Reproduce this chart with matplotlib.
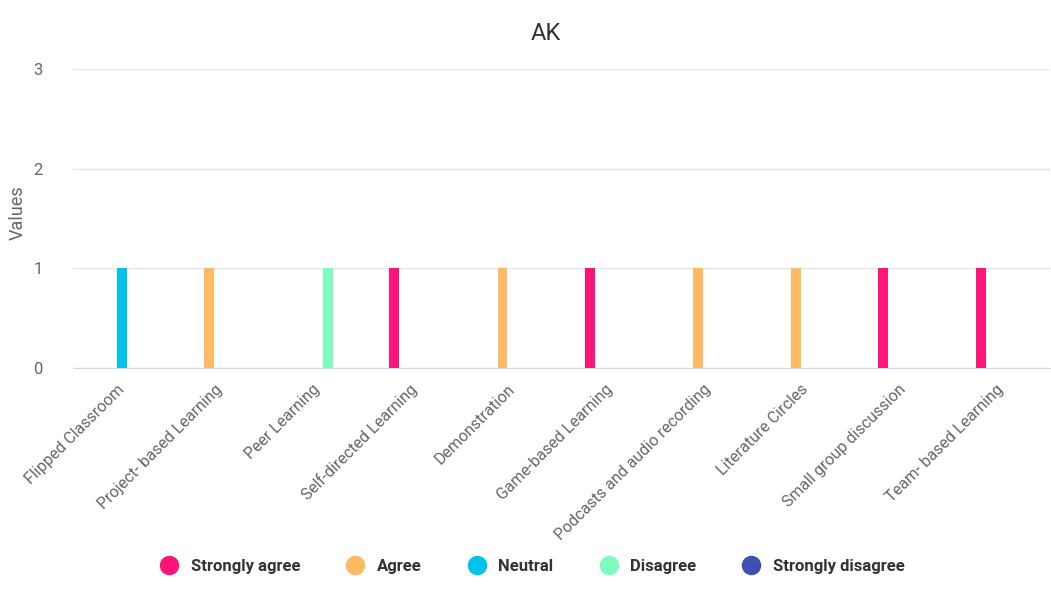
import matplotlib
matplotlib.use("Agg")
import matplotlib.pyplot as plt
import numpy as np
from matplotlib.lines import Line2D

plt.rcParams['font.family'] = ['Roboto', 'DejaVu Sans']

# categorias y series
categorias = ["Flipped Classroom", "Project- based Learning", "Peer Learning",
              "Self-directed Learning", "Demonstration", "Game-based Learning",
              "Podcasts and audio recording", "Literature Circles",
              "Small group discussion", "Team- based Learning"]
series = ["Strongly agree", "Agree", "Neutral", "Disagree", "Strongly disagree"]
colores = ["#ff1479", "#fdba62", "#00c2ed", "#7dfcbe", "#3d4fb3"]

strongly_agree    = [0, 0, 0, 1, 0, 1, 0, 0, 1, 1]
agree             = [0, 1, 0, 0, 1, 0, 1, 1, 0, 0]
neutral           = [1, 0, 0, 0, 0, 0, 0, 0, 0, 0]
disagree          = [0, 0, 1, 0, 0, 0, 0, 0, 0, 0]
strongly_disagree = [0, 0, 0, 0, 0, 0, 0, 0, 0, 0]
valores = [strongly_agree, agree, neutral, disagree, strongly_disagree]

fig = plt.figure(figsize=(10.51, 6.01), dpi=100)
ax = fig.add_axes([0.0695, 0.388, 0.93, 0.497])

x = np.arange(len(categorias))
paso = 0.107
for i, (nombre, vals) in enumerate(zip(series, valores)):
    ax.bar(x + (i - 2) * paso, vals, width=0.1, color=colores[i], label=nombre, zorder=3)

ax.set_xlim(-0.5, len(categorias) - 0.5)
ax.set_ylim(0, 3)
ax.set_yticks([0, 1, 2, 3])
ax.grid(axis='y', color='#e6e6e6', linewidth=1, zorder=0)
for s in ['top', 'right', 'left']:
    ax.spines[s].set_visible(False)
ax.spines['bottom'].set_color('#ccd6eb')
ax.tick_params(axis='y', length=0, labelsize=12, labelcolor='#666666', pad=22)
ax.tick_params(axis='x', length=0, labelsize=11.5, labelcolor='#666666', pad=14)
ax.set_xticks(x)
ax.set_xticklabels(categorias, rotation=45, ha='right', va='center', rotation_mode='anchor')
ax.set_ylabel("Values", fontsize=13, color='#666666')
ax.yaxis.set_label_coords(-0.047, 0.52)

fig.text(0.519, 0.945, "AK", ha='center', va='center', fontsize=17, color='#333333')

manejadores = [Line2D([], [], marker='o', linestyle='', markersize=13, color=c) for c in colores]
fig.legend(manejadores, series, loc='center', bbox_to_anchor=(0.503, 0.058), ncol=5,
           frameon=False, prop={'weight': 'bold', 'size': 12}, handletextpad=0.3,
           columnspacing=2.3, labelcolor='#333333')

fig.savefig("out.png", dpi=100)
